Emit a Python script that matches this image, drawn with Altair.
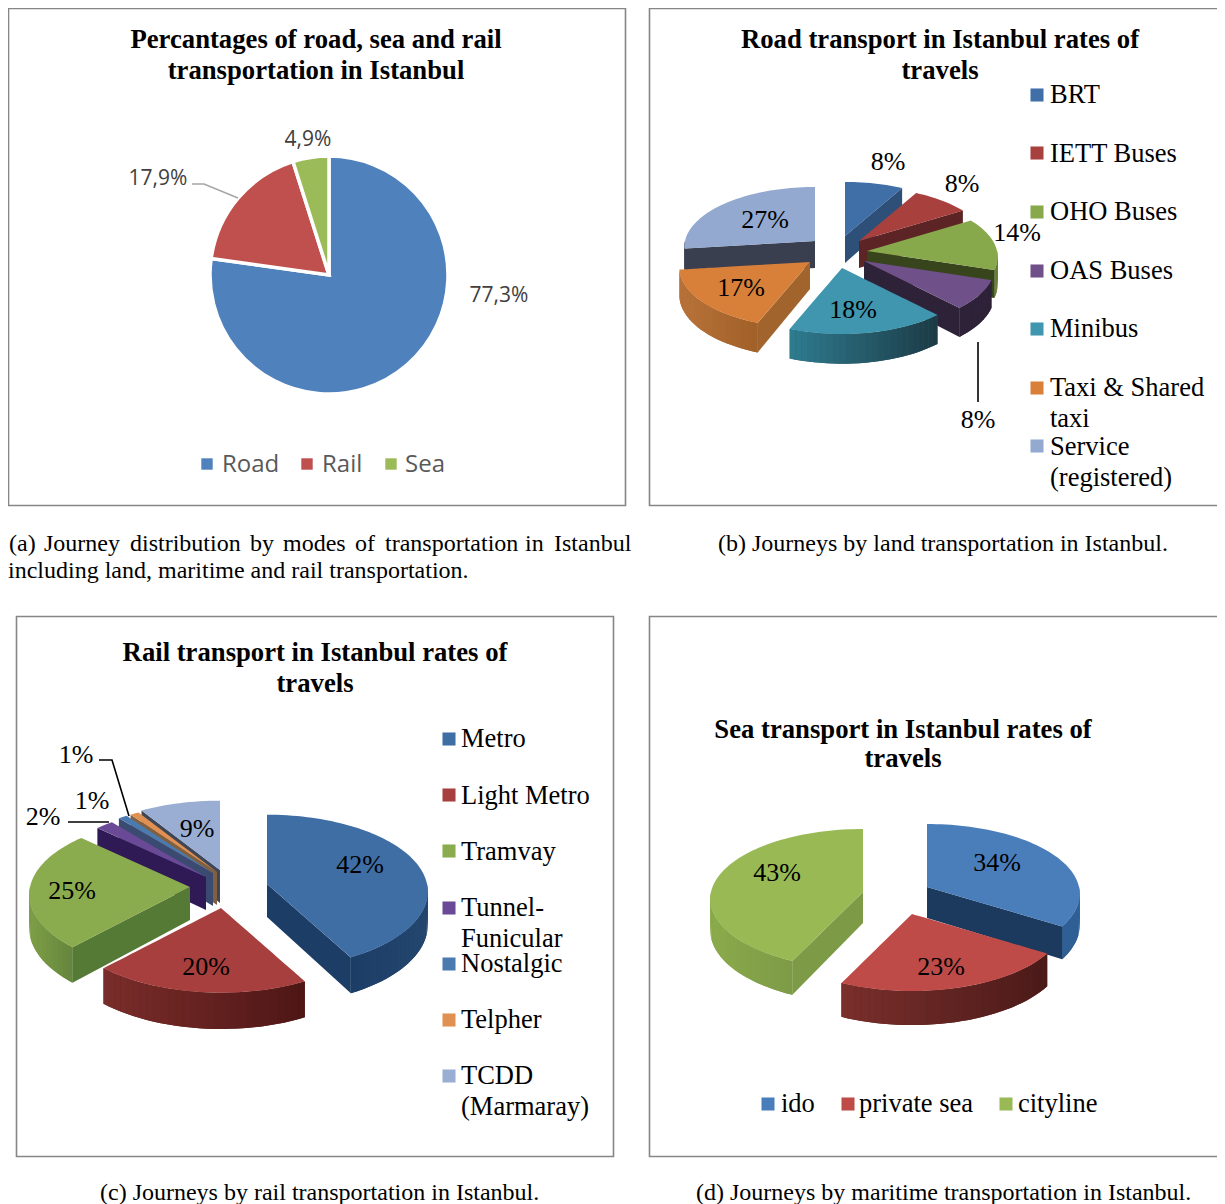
import math
import altair as alt
import pandas as pd

# ---------- values ----------
a_names = ["Road", "Rail", "Sea"]
a_vals = [77.3, 17.9, 4.9]
a_cols = ["#4f81bd", "#c0504d", "#9bbb59"]

b_names = ["BRT", "IETT Buses", "OHO Buses", "OAS Buses", "Minibus", "Taxi & Shared taxi", "Service (registered)"]
b_vals = [8, 8, 14, 8, 18, 17, 27]
c_names = ["Metro", "Light Metro", "Tramvay", "Tunnel-Funicular", "Nostalgic", "Telpher", "TCDD (Marmaray)"]
c_vals = [42, 20, 25, 2, 1, 1, 9]
d_names = ["ido", "private sea", "cityline"]
d_vals = [34, 23, 43]

# ---------- look of the tilted pies: apex, top, cut face, wall left, wall right ----------
b_apex = [(845, 236), (859, 241), (867, 251), (864, 261), (842, 268), (810, 262), (815, 241)]
b_top = ["#3f6fa6", "#a8403e", "#88a84c", "#6f5088", "#3f96ae", "#d8803a", "#93a9d0"]
b_cut = ["#2e5078", "#5c2424", "#38441c", "#2d2238", "#2a6070", "#a0642c", "#3a3f50"]
b_wl = ["#2e5078", "#5c2424", "#6f8c3c", "#2d2238", "#2f7c90", "#b8733a", "#3a3f50"]
b_wr = ["#2e5078", "#5c2424", "#5a7030", "#2d2238", "#1c3a44", "#a06028", "#3a3f50"]
b_order = [6, 0, 1, 2, 3, 5, 4]

c_apex = [(267, 884), (221, 908), (190, 887), (206, 877), (213, 873), (217, 872), (220, 870)]
c_top = ["#3f6ea5", "#a63f3d", "#8aab4e", "#6a4a96", "#4a7ab0", "#e09050", "#9aaed4"]
c_cut = ["#1c3d66", "#7a2d2a", "#557a36", "#2f1a55", "#3a4a70", "#806040", "#3f4656"]
c_wl = ["#1c3d66", "#7a2d2a", "#7f9f48", "#2f1a55", "#3a4a70", "#806040", "#3f4656"]
c_wr = ["#24476f", "#4e1616", "#64863c", "#2f1a55", "#3a4a70", "#806040", "#3f4656"]
c_order = [6, 5, 4, 3, 0, 2, 1]

d_apex = [(927, 887), (912, 914), (863, 892)]
d_top = ["#4a7ebb", "#be4b48", "#98b954"]
d_cut = ["#1b3a5e", "#7a2f2c", "#7d9a46"]
d_wl = ["#2f5f94", "#7a2f2c", "#8bab4c"]
d_wr = ["#2f5f94", "#4a1a18", "#7d9a46"]
d_order = [0, 2, 1]

group_counter = [0]
rows = []


def pt(ax, ay, deg, rx, ry, k):
    t = math.radians(deg)
    s = 1 - k * math.cos(t)
    return ax + rx * math.sin(t) * s, ay - ry * math.cos(t) * s


def scale_at(deg, k):
    return 1 - k * math.cos(math.radians(deg))


def mix(c1, c2, t):
    p = [int(c1[i:i + 2], 16) for i in (1, 3, 5)]
    q = [int(c2[i:i + 2], 16) for i in (1, 3, 5)]
    return "#%02x%02x%02x" % tuple(round(u + (v - u) * t) for u, v in zip(p, q))


def add_band(pts, depths, col):
    group_counter[0] += 1
    for (px, py), dp in zip(pts, depths):
        rows.append(dict(g=group_counter[0], x=px, y=py, y2=py + dp, c=col))


def add_poly(poly, col):
    group_counter[0] += 1
    n = len(poly)
    xs = sorted({round(p[0], 2) for p in poly})
    for x in xs:
        hits = []
        for i in range(n):
            (x0, y0), (x1, y1) = poly[i], poly[(i + 1) % n]
            lo, hi = min(x0, x1) - 0.011, max(x0, x1) + 0.011
            if lo <= x <= hi:
                if abs(x1 - x0) < 1e-6:
                    hits += [y0, y1]
                else:
                    u = min(1, max(0, (x - x0) / (x1 - x0)))
                    hits.append(y0 + (y1 - y0) * u)
        rows.append(dict(g=group_counter[0], x=x, y=min(hits), y2=max(hits), c=col))


def pie3d(vals, apex, top, cut, wl, wr, order, rx, ry, k, depth):
    total = sum(vals)
    starts = [sum(vals[:i]) / total * 360 for i in range(len(vals))]
    ends = [sum(vals[:i + 1]) / total * 360 for i in range(len(vals))]
    for i in order:
        s, e = starts[i], ends[i]
        ax, ay = apex[i]
        a0, a1 = max(s, 90), min(e, 270)
        if a1 > a0:
            steps = max(2, int((a1 - a0) / 2.5))
            angs = [a0 + (a1 - a0) * j / steps for j in range(steps + 1)]
            arc = [pt(ax, ay, a, rx, ry, k) for a in angs]
            deps = [depth * scale_at(a, k) for a in angs]
            lo, hi = min(p[0] for p in arc), max(p[0] for p in arc)
            add_band(arc, deps, mix(wl[i], wr[i], 0.5))
            for j in range(steps):
                f = ((arc[j][0] + arc[j + 1][0]) / 2 - lo) / max(hi - lo, 1)
                add_band(arc[j:j + 2], deps[j:j + 2], mix(wl[i], wr[i], f))
        for edge, visible in ((e, e < 180), (s, s > 180)):
            if visible:
                add_band([(ax, ay), pt(ax, ay, edge, rx, ry, k)], [depth, depth * scale_at(edge, k)], cut[i])
        steps = max(2, int((e - s) / 2))
        poly = [(ax, ay)] + [pt(ax, ay, s + (e - s) * j / steps, rx, ry, k) for j in range(steps + 1)]
        add_poly(poly, top[i])


pie3d(b_vals, b_apex, b_top, b_cut, b_wl, b_wr, b_order, 130, 60, 0.1, 27)
pie3d(c_vals, c_apex, c_top, c_cut, c_wl, c_wr, c_order, 160, 77, 0.1, 33)
pie3d(d_vals, d_apex, d_top, d_cut, d_wl, d_wr, d_order, 152, 70, 0.1, 31)

# ---------- shared pixel-like scales ----------
XS = alt.Scale(domain=[8, 1217], nice=False, zero=False)
YS = alt.Scale(domain=[1204, 8], nice=False, zero=False)
X = lambda f="x": alt.X(f"{f}:Q", scale=XS, axis=None)
Y = lambda f="y": alt.Y(f"{f}:Q", scale=YS, axis=None)

# ---------- panels ----------
panels = pd.DataFrame([
    dict(x=8.5, x2=625.5, y=8.5, y2=505.5),
    dict(x=649.5, x2=1240, y=8.5, y2=505.5),
    dict(x=16.5, x2=613.5, y=616.5, y2=1156.5),
    dict(x=649.5, x2=1240, y=616.5, y2=1156.5),
])
panel_layer = alt.Chart(panels).mark_rect(fill="white", stroke="#868686", strokeWidth=1.6, clip=True).encode(
    x=X(), x2="x2:Q", y=Y(), y2="y2:Q")

# ---------- flat pie ----------
flat = pd.DataFrame(dict(n=a_names, v=a_vals, c=a_cols, o=[0, 1, 2]))
flat_layer = alt.Chart(flat).mark_arc(radius=119, stroke="white", strokeWidth=3.5).encode(
    theta=alt.Theta("v:Q", stack=True),
    order=alt.Order("o:Q"),
    color=alt.Color("c:N", scale=None),
    x=alt.X(datum=329, scale=XS, axis=None),
    y=alt.Y(datum=275, scale=YS, axis=None),
)

# ---------- tilted pies ----------
df3d = pd.DataFrame(rows)
pie_layer = alt.Chart(df3d).mark_area(orient="vertical").encode(
    x=X(),
    y=alt.Y("y:Q", scale=YS, axis=None, stack=False),
    y2="y2:Q",
    detail="g:N",
    color=alt.Color("c:N", scale=None),
)

# ---------- leader lines ----------
lines = pd.DataFrame([
    dict(g="a", o=0, x=192, y=184, c="#a6a6a6"), dict(g="a", o=1, x=204, y=184, c="#a6a6a6"),
    dict(g="a", o=2, x=238, y=198, c="#a6a6a6"),
    dict(g="b", o=0, x=978, y=342, c="black"), dict(g="b", o=1, x=978, y=402, c="black"),
    dict(g="c", o=0, x=99, y=760, c="black"), dict(g="c", o=1, x=112, y=760, c="black"),
    dict(g="c", o=2, x=129, y=816, c="black"),
    dict(g="d", o=0, x=68, y=822, c="black"), dict(g="d", o=1, x=109, y=822, c="black"),
])
line_layer = alt.Chart(lines).mark_line(strokeWidth=1.6).encode(
    x=X(), y=Y(), detail="g:N", order="o:Q", color=alt.Color("c:N", scale=None))

# ---------- legend squares ----------
sq_rows = []
for x, y, c in zip([207, 307, 391], [464] * 3, a_cols):
    sq_rows.append(dict(x=x, y=y, c=c, s=130))
for y, c in zip([95, 153, 212, 271, 329, 388, 446], b_top):
    sq_rows.append(dict(x=1037, y=y, c=c, s=170))
for y, c in zip([739, 795, 851, 908, 964, 1020, 1076], c_top):
    sq_rows.append(dict(x=449, y=y, c=c, s=170))
for x, c in zip([768, 848, 1006], d_top):
    sq_rows.append(dict(x=x, y=1104, c=c, s=170))
sq_layer = alt.Chart(pd.DataFrame(sq_rows)).mark_point(shape="square", filled=True, opacity=1).encode(
    x=X(), y=Y(), color=alt.Color("c:N", scale=None), size=alt.Size("s:Q", scale=None))


def text_layer(items, font, size, align="left", weight="normal", color="black"):
    d = pd.DataFrame(items, columns=["x", "y", "t"])
    return alt.Chart(d).mark_text(font=font, fontSize=size, align=align, baseline="alphabetic",
                                  fontWeight=weight, color=color).encode(x=X(), y=Y(), text="t:N")


SERIF = "Liberation Serif"
titles = [
    (316, 48, "Percantages of road, sea and rail"), (316, 79, "transportation in Istanbul"),
    (940, 48, "Road transport in Istanbul rates of"), (940, 79, "travels"),
    (315, 661, "Rail transport in Istanbul rates of"), (315, 692, "travels"),
    (903, 738, "Sea transport in Istanbul rates of"), (903, 767, "travels"),
]
pct_serif = [
    (888, 170, "8%"), (962, 192, "8%"), (1017, 241, "14%"), (978, 428, "8%"), (853, 318, "18%"),
    (741, 296, "17%"), (765, 228, "27%"),
    (360, 873, "42%"), (206, 975, "20%"), (72, 899, "25%"), (43, 825, "2%"), (92, 809, "1%"),
    (76, 763, "1%"), (197, 837, "9%"),
    (997, 871, "34%"), (941, 975, "23%"), (777, 881, "43%"),
]
legend_serif = [
    (1050, 103, "BRT"), (1050, 162, "IETT Buses"), (1050, 220, "OHO Buses"), (1050, 279, "OAS Buses"),
    (1050, 337, "Minibus"), (1050, 396, "Taxi & Shared"), (1050, 427, "taxi"), (1050, 455, "Service"),
    (1050, 486, "(registered)"),
    (461, 747, "Metro"), (461, 804, "Light Metro"), (461, 860, "Tramvay"), (461, 916, "Tunnel-"),
    (461, 947, "Funicular"), (461, 972, "Nostalgic"), (461, 1028, "Telpher"), (461, 1084, "TCDD"),
    (461, 1115, "(Marmaray)"),
    (781, 1112, "ido"), (859, 1112, "private sea"), (1018, 1112, "cityline"),
]
captions = [
    (9, 551, "(a)"), (44, 551, "Journey"), (130, 551, "distribution"), (250, 551, "by"), (283, 551, "modes"),
    (355, 551, "of"), (385, 551, "transportation"), (525, 551, "in"), (554, 551, "Istanbul"),
    (8, 578, "including land, maritime and rail transportation."),
    (718, 551, "(b) Journeys by land transportation in Istanbul."),
    (100, 1200, "(c) Journeys by rail transportation in Istanbul."),
    (696, 1200, "(d) Journeys by maritime transportation in Istanbul."),
]
pct_a = [(499, 302, "77,3%"), (158, 185, "17,9%"), (308, 146, "4,9%")]
leg_a = [(222, 472, "Road"), (322, 472, "Rail"), (405, 472, "Sea")]

chart = alt.layer(
    panel_layer, flat_layer, pie_layer, line_layer, sq_layer,
    text_layer(titles, SERIF, 26.7, "center", "bold"),
    text_layer(pct_serif, SERIF, 26, "center"),
    text_layer(legend_serif, SERIF, 26.5),
    text_layer(captions, SERIF, 24),
    text_layer(pct_a, "Open Sans", 21, "center", color="#404040"),
    text_layer(leg_a, "Open Sans", 24, color="#595959"),
).properties(
    width=1209, height=1196, padding=0,
    autosize=alt.AutoSizeParams(type="none"),
    background="white",
).configure_view(stroke=None)

chart.save("out.html", embed_options={"renderer": "svg", "actions": False})
